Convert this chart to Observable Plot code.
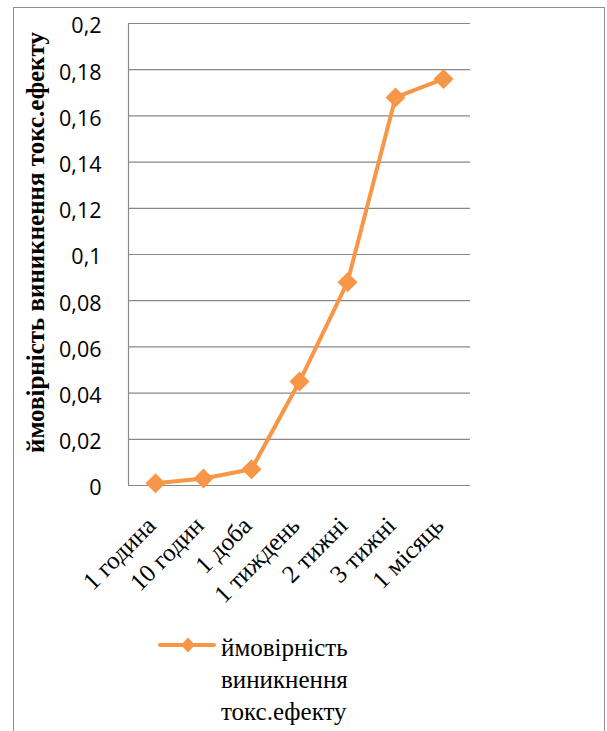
<!DOCTYPE html>
<html><head><meta charset="utf-8">
<script src="https://cdn.jsdelivr.net/npm/d3@7"></script>
<script src="https://cdn.jsdelivr.net/npm/@observablehq/plot@0.6"></script>
<style>
body{margin:0;background:#fff;}
#wrap{position:relative;width:607px;height:731px;overflow:hidden;background:#fff;}
#frame{position:absolute;left:13px;top:7px;width:592px;height:780px;border:1.5px solid #8c8c8c;box-sizing:border-box;}
#chart{position:absolute;left:0;top:0;}
#legsym{position:absolute;left:158px;top:635px;}
#legtext{position:absolute;left:221px;top:632px;font-family:"Liberation Serif","Times New Roman",serif;font-size:25px;line-height:32px;color:#000;}
</style></head>
<body><div id="wrap"><div id="frame"></div><div id="chart"></div>
<svg id="legsym" width="60" height="20"></svg><div id="legtext"></div></div>
<script>
const categories = ["1 година","10 годин","1 доба","1 тиждень","2 тижні","3 тижні","1 місяць"];
const values = [0.001, 0.003, 0.007, 0.045, 0.088, 0.168, 0.176];
const yTicks = [0, 0.02, 0.04, 0.06, 0.08, 0.1, 0.12, 0.14, 0.16, 0.18, 0.2];
const seriesName = "ймовірність виникнення токс.ефекту";
const yLabel = "ймовірність виникнення токс.ефекту";
const color = "#F79646";

const data = categories.map((c, i) => ({c, v: values[i]}));
const fmt = d => String(+d.toFixed(2)).replace(".", ",");
const diamond = {draw(ctx, size){const h = Math.sqrt(size/2); ctx.moveTo(0,-h); ctx.lineTo(h,0); ctx.lineTo(0,h); ctx.lineTo(-h,0); ctx.closePath();}};

const chart = Plot.plot({
  width: 607, height: 731,
  marginLeft: 128, marginRight: 137, marginTop: 23, marginBottom: 246,
  style: {background: "transparent"},
  x: {type: "point", domain: categories, padding: 0.5},
  y: {domain: [0, 0.2]},
  marks: [
    Plot.gridY(yTicks, {stroke: "#888", strokeOpacity: 1, strokeWidth: 1.2}),
    Plot.frame({anchor: "left", stroke: "#888", strokeWidth: 1.2}),
    Plot.axisY(yTicks, {tickSize: 0, tickPadding: 27, tickFormat: fmt, dy: 3,
      fontFamily: "Open Sans", fontSize: 21.5, fill: "#000", label: null}),
    Plot.text([yLabel], {frameAnchor: "left", rotate: -90, dx: -93, dy: -12,
      textAnchor: "middle", lineAnchor: "middle",
      fontFamily: "Liberation Serif", fontWeight: "bold", fontSize: 25, fill: "#000"}),
    Plot.axisX({tickSize: 0, tickRotate: -45, tickPadding: 34, label: null, dx: -4, dy: 2,
      fontFamily: "Liberation Serif", fontSize: 25, fill: "#000"}),
    Plot.line(data, {x: "c", y: "v", stroke: color, strokeWidth: 4}),
    Plot.dot(data, {x: "c", y: "v", symbol: diamond, r: 8, fill: color, stroke: "none"})
  ]
});
document.getElementById("chart").append(chart);

const ls = d3.select("#legsym");
ls.append("line").attr("x1", 2).attr("x2", 56).attr("y1", 10).attr("y2", 10)
  .attr("stroke", color).attr("stroke-width", 4).attr("stroke-linecap", "round");
ls.append("path").attr("d", "M30,2.5L37,10L30,17.5L23,10Z").attr("fill", color);
document.getElementById("legtext").innerHTML = seriesName.split(" ").join("<br>");
</script></body></html>
